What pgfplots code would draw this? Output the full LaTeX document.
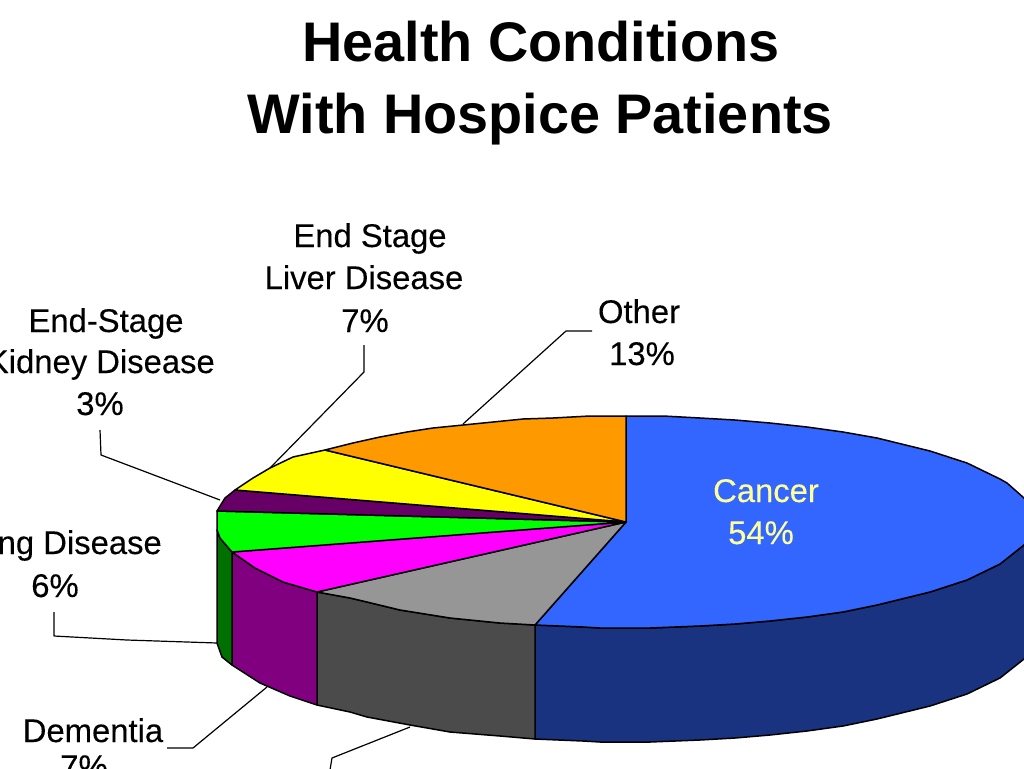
\documentclass[border=0pt]{standalone}
\usepackage{fontspec}
\setmainfont{Liberation Sans}
\usepackage{pgfplots}
\pgfplotsset{compat=1.18}

\definecolor{blueTop}{HTML}{3366FF}
\definecolor{blueSide}{HTML}{1A3380}
\definecolor{grayTop}{HTML}{969696}
\definecolor{graySide}{HTML}{4B4B4B}
\definecolor{magTop}{HTML}{FF00FF}
\definecolor{magSide}{HTML}{800080}
\definecolor{greenTop}{HTML}{00FF00}
\definecolor{greenSide}{HTML}{007000}
\definecolor{kidney}{HTML}{660066}
\definecolor{liver}{HTML}{FFFF00}
\definecolor{other}{HTML}{FF9900}
\definecolor{cream}{HTML}{FFFF99}

% one line of text: x, baseline y, text
\newcommand{\lab}[3]{\node[anchor=base, inner sep=0pt] at (axis cs:#1,#2) {\fontsize{32.8}{36}\selectfont\addfontfeature{FakeBold=0.2}#3};}
\newcommand{\labr}[3]{\node[anchor=base east, inner sep=0pt] at (axis cs:#1,#2) {\fontsize{32.8}{36}\selectfont\addfontfeature{FakeBold=0.2}#3};}
\newcommand{\ttl}[3]{\node[anchor=base, inner sep=0pt] at (axis cs:#1,#2) {\fontsize{55.8}{60}\selectfont\bfseries #3};}

\begin{document}
\begin{tikzpicture}
\path[use as bounding box, clip] (0,0) rectangle (1024pt,768pt);
\begin{axis}[
    scale only axis,
    width=1024pt,
    height=768pt,
    xmin=0, xmax=1024,
    ymin=0, ymax=768,
    y dir=reverse,
    hide axis,
    every axis plot/.append style={draw=black, line width=1.5pt, line join=round, mark=none},
]
% side walls
\addplot[fill=blueSide] coordinates {
    (535,625) (583,627) (600,628) (650,628) (700,626) (735,624) (770,621) (807,617)
    (843,612) (877,605) (930,592) (967,580) (1000,564) (1024,545) (1030,536) (1034,523)
    (1034,637) (1024,659) (1000,678) (967,694) (930,706) (877,719) (843,726) (807,731)
    (770,735) (735,738) (700,740) (650,742) (600,742) (583,741) (535,739)
} -- cycle;
\addplot[fill=graySide] coordinates {
    (317,592) (350,598) (367,602) (400,610) (450,618) (500,623) (535,625)
    (535,739) (500,736) (450,732) (410,725) (367,717) (350,712) (317,705)
} -- cycle;
\addplot[fill=magSide] coordinates {
    (232,552) (255,568) (283,582) (317,592) (317,705) (290,696) (260,683) (232,665)
} -- cycle;
\addplot[fill=greenSide] coordinates {
    (217,530) (220,538) (232,552) (232,665) (222,657) (217,643)
} -- cycle;
% top faces
\addplot[fill=blueTop] coordinates {
    (626,522) (626,416) (663,416) (700,418) (735,420) (770,423) (807,427) (843,432)
    (877,438) (930,451) (967,463) (1000,479) (1007,483) (1024,498) (1030,506) (1034,521)
    (1030,536) (1024,545) (1000,564) (967,580) (930,592) (877,605) (843,612) (807,617)
    (770,621) (735,624) (700,626) (650,628) (600,628) (583,627) (535,625)
} -- cycle;
\addplot[fill=grayTop] coordinates {
    (626,522) (535,625) (500,623) (450,618) (400,610) (367,602) (350,598) (317,592)
} -- cycle;
\addplot[fill=magTop] coordinates {
    (626,522) (317,592) (283,582) (255,568) (232,552)
} -- cycle;
\addplot[fill=greenTop] coordinates {
    (626,522) (232,552) (220,538) (217,530) (217,511)
} -- cycle;
\addplot[fill=kidney] coordinates {
    (626,522) (217,511) (225,498) (235,490)
} -- cycle;
\addplot[fill=liver] coordinates {
    (626,522) (235,490) (253,478) (270,468) (293,457) (325,450)
} -- cycle;
\addplot[fill=other] coordinates {
    (626,522) (325,450) (353,443) (380,437) (407,432) (433,428) (463,425) (493,422)
    (523,419) (553,418) (590,416) (626,416)
} -- cycle;
% leader lines
\addplot[line width=1.2pt] coordinates {(592,331) (566,331) (463,424)};
\addplot[line width=1.2pt] coordinates {(364,345) (364,372) (270,468)};
\addplot[line width=1.2pt] coordinates {(100,430) (101,455) (220,500)};
\addplot[line width=1.2pt] coordinates {(54,612) (54,636) (127,640) (217,643)};
\addplot[line width=1.2pt] coordinates {(167,748) (193,748) (267,687)};
\addplot[line width=1.2pt] coordinates {(330,770) (332,758) (410,727)};
% texts
\ttl{541}{62}{Health Conditions}
\ttl{540}{133}{With Hospice Patients}
\lab{370}{247}{End Stage}
\lab{364}{289}{Liver Disease}
\lab{365}{332}{7\%}
\lab{106}{332}{End-Stage}
\labr{215}{373}{Kidney Disease}
\lab{100}{415}{3\%}
\lab{639}{323}{Other}
\lab{642}{365}{13\%}
\lab{766}{502}{\color{cream}Cancer}
\lab{761}{544}{\color{cream}54\%}
\labr{162}{554}{Lung Disease}
\lab{55}{597}{6\%}
\lab{93}{742}{Dementia}
\lab{84}{778}{7\%}
\end{axis}
\end{tikzpicture}
\end{document}
